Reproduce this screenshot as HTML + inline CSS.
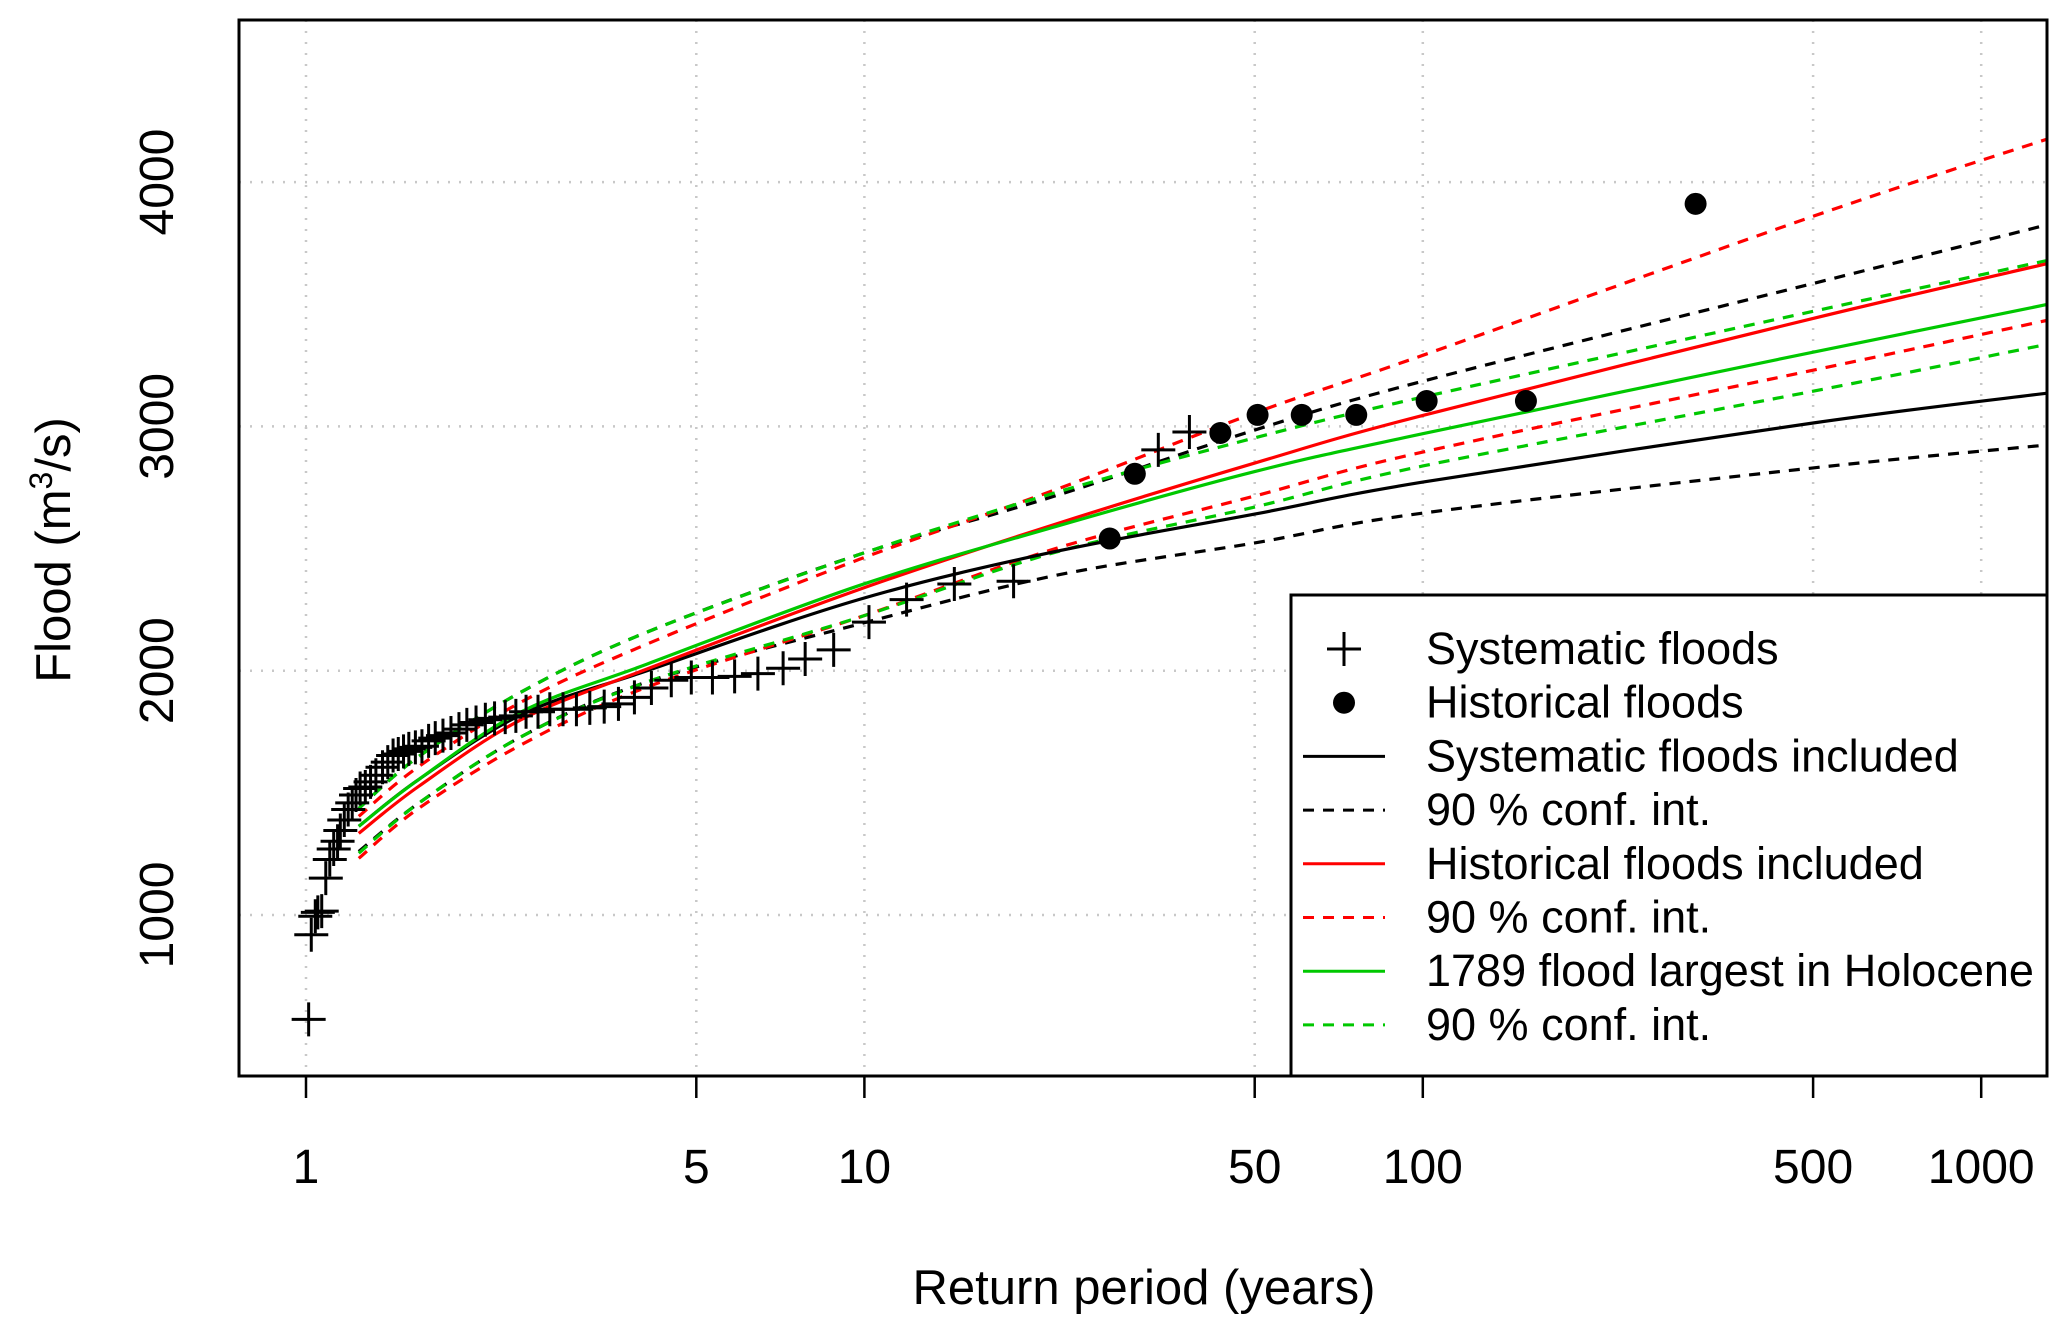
<!DOCTYPE html>
<html><head><meta charset="utf-8"><style>
html,body{margin:0;padding:0;background:#fff;}
svg{display:block;font-family:"Liberation Sans",Arial,sans-serif;}
</style></head><body>
<svg id="chart" width="2067" height="1330" viewBox="0 0 2067 1330" xmlns="http://www.w3.org/2000/svg">
<g id="grid"></g>
<g id="curves"></g>
<g id="points"></g>
<g id="axes"></g>
<g id="legend"></g>
</svg>
<script>
const xTicks = [1, 5, 10, 50, 100, 500, 1000];
const yTicks = [1000, 2000, 3000, 4000];
const curveT = [1.243, 1.59, 2.43, 4.08, 9.8, 22, 50, 100, 500, 1312];
const sysFit = [1363, 1554, 1820, 2000, 2292, 2488, 2641, 2772, 3014, 3136];
const sysLower = [1260, 1457, 1730, 1954, 2191, 2390, 2523, 2645, 2830, 2924];
const sysUpper = [1436, 1648, 1913, 2158, 2476, 2716, 2985, 3185, 3585, 3825];
const histFit = [1334, 1526, 1800, 2007, 2333, 2600, 2850, 3045, 3442, 3666];
const histLower = [1232, 1436, 1697, 1933, 2219, 2500, 2715, 2895, 3230, 3434];
const histUpper = [1404, 1607, 1872, 2109, 2456, 2741, 3055, 3291, 3860, 4176];
const holoFit = [1363, 1554, 1832, 2027, 2349, 2590, 2815, 2970, 3304, 3499];
const holoLower = [1253, 1457, 1730, 1954, 2219, 2485, 2670, 2838, 3144, 3336];
const holoUpper = [1436, 1648, 1913, 2158, 2476, 2729, 2953, 3120, 3471, 3679];
const sysT = [1.011,1.022,1.039,1.050,1.067,1.085,1.103,1.121,1.139,1.152,1.171,1.190,1.210,1.229,1.250,1.277,1.305,1.334,1.371,1.401,1.432,1.463,1.495,1.528,1.570,1.613,1.658,1.704,1.759,1.818,1.879,1.941,2.016,2.095,2.176,2.274,2.376,2.478,2.603,2.733,2.886,3.050,3.223,3.420,3.627,3.874,4.155,4.510,4.898,5.344,5.856,6.446,7.152,7.833,8.810,10.19,11.90,14.49,18.50,33.6,38.2];
const sysQ = [573,919,995,1011,1016,1151,1227,1270,1302,1346,1389,1432,1459,1491,1518,1524,1545,1572,1605,1626,1653,1659,1670,1680,1686,1691,1713,1724,1734,1745,1761,1778,1788,1799,1805,1810,1815,1832,1832,1842,1842,1842,1848,1853,1864,1891,1929,1961,1972,1972,1977,1988,2010,2048,2085,2199,2291,2355,2366,2904,2977];
const histT = [27.5, 30.5, 43.4, 50.6, 60.7, 76.0, 101.6, 153, 308];
const histQ = [2541, 2806, 2973, 3047, 3047, 3047, 3104, 3104, 3911];

const NS = "http://www.w3.org/2000/svg";
const L = 239, R = 2047, TOP = 20, B = 1076;
const xS = t => 306 + 558.4 * Math.log10(t);
const yS = q => 915 - (q - 1000) * 0.2443;
function el(tag, attrs, parent, text) {
  const e = document.createElementNS(NS, tag);
  for (const k in attrs) e.setAttribute(k, attrs[k]);
  if (text !== undefined) e.textContent = text;
  parent.appendChild(e);
  return e;
}
const grid = document.getElementById('grid');
const axes = document.getElementById('axes');
const curves = document.getElementById('curves');
const points = document.getElementById('points');
const legend = document.getElementById('legend');

xTicks.forEach(t => {
  const g = el('line', {x1: xS(t), x2: xS(t), y1: TOP, y2: B, stroke: '#c8c8c8', 'stroke-width': 2.5, 'stroke-dasharray': '2 9'}, grid);
  
  
  const tk = el('line', {x1: xS(t), x2: xS(t), y1: B, y2: B + 22, stroke: '#000', 'stroke-width': 2.5}, axes);
  
  
  const lb = el('text', {x: xS(t), y: 1183, 'font-size': 48, 'text-anchor': 'middle'}, axes, String(t));
  
  
});
yTicks.forEach(v => {
  const g = el('line', {x1: L, x2: R, y1: yS(v), y2: yS(v), stroke: '#c8c8c8', 'stroke-width': 2.5, 'stroke-dasharray': '2 9'}, grid);
  
  
  const lb = el('text', {x: 0, y: 0, 'font-size': 48, 'text-anchor': 'middle', transform: `translate(173,${yS(v)}) rotate(-90)`}, axes, String(v));
  
  
});
const frame = el('rect', {x: L, y: TOP, width: R - L, height: B - TOP, fill: 'none', stroke: '#000', 'stroke-width': 3}, axes);


const xt = el('text', {x: 1144, y: 1304, 'font-size': 49, 'text-anchor': 'middle'}, axes, 'Return period (years)');


const yt = el('text', {x: 0, y: 0, 'font-size': 49, 'text-anchor': 'middle', transform: 'translate(70,550) rotate(-90)'}, axes);


yt.innerHTML = 'Flood  (m<tspan dy="-18" font-size="32">3</tspan><tspan dy="18">/s)</tspan>';

function smoothPath(ts, qs) {
  const p = ts.map((t, i) => [xS(t), yS(qs[i])]);
  let d = `M${p[0][0]},${p[0][1]}`;
  for (let i = 0; i < p.length - 1; i++) {
    const p0 = p[i - 1] || p[i], p1 = p[i], p2 = p[i + 1], p3 = p[i + 2] || p2;
    const c1 = [p1[0] + (p2[0] - p0[0]) / 6, p1[1] + (p2[1] - p0[1]) / 6];
    const c2 = [p2[0] - (p3[0] - p1[0]) / 6, p2[1] - (p3[1] - p1[1]) / 6];
    d += ` C${c1[0]},${c1[1]} ${c2[0]},${c2[1]} ${p2[0]},${p2[1]}`;
  }
  return d;
}
const series = [
  ['sys-upper-ci', sysUpper, '#000', true], ['sys-lower-ci', sysLower, '#000', true],
  ['hist-upper-ci', histUpper, '#ff0000', true], ['hist-lower-ci', histLower, '#ff0000', true],
  ['holo-upper-ci', holoUpper, '#00c800', true], ['holo-lower-ci', holoLower, '#00c800', true],
  ['sys-fit-line', sysFit, '#000', false], ['hist-fit-line', histFit, '#ff0000', false], ['holo-fit-line', holoFit, '#00c800', false]
];
series.forEach(s => {
  const a = {d: smoothPath(curveT, s[1]), fill: 'none', stroke: s[2], 'stroke-width': 3.2};
  if (s[3]) a['stroke-dasharray'] = '11 9';
  const p = el('path', a, curves);
  
  
});
sysT.forEach((t, i) => {
  const x = xS(t), y = yS(sysQ[i]);
  const c = el('path', {d: `M${x - 17},${y} H${x + 17} M${x},${y - 17} V${y + 17}`, stroke: '#000', 'stroke-width': 3, fill: 'none'}, points);
  
  
});
histT.forEach((t, i) => {
  const c = el('circle', {cx: xS(t), cy: yS(histQ[i]), r: 11, fill: '#000'}, points);
  
  
});

const lbox = el('rect', {x: 1291, y: 595, width: 756, height: 481, fill: '#fff', stroke: '#000', 'stroke-width': 3}, legend);


const entries = [
  ['cross', '#000', 'Systematic floods'], ['dot', '#000', 'Historical floods'],
  ['solid', '#000', 'Systematic floods included'], ['dash', '#000', '90 % conf. int.'],
  ['solid', '#ff0000', 'Historical floods included'], ['dash', '#ff0000', '90 % conf. int.'],
  ['solid', '#00c800', '1789 flood largest in Holocene'], ['dash', '#00c800', '90 % conf. int.']
];
entries.forEach((e, i) => {
  const y = 649 + i * 53.7;
  const g = el('g', {}, legend);
  
  
  if (e[0] === 'cross') el('path', {d: `M1327,${y} H1361 M1344,${y - 17} V${y + 17}`, stroke: '#000', 'stroke-width': 3}, g);
  else if (e[0] === 'dot') el('circle', {cx: 1344, cy: y, r: 11, fill: '#000'}, g);
  else {
    const a = {x1: 1303, x2: 1385, y1: y, y2: y, stroke: e[1], 'stroke-width': 3};
    if (e[0] === 'dash') a['stroke-dasharray'] = '11 9';
    el('line', a, g);
  }
  el('text', {x: 1426, y: y + 15, 'font-size': 45}, g, e[2]);
});
</script>
</body></html>
